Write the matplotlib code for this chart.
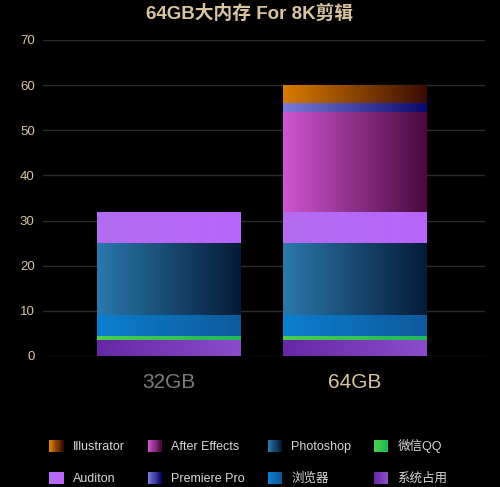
import numpy as np
import matplotlib
matplotlib.use("Agg")
import matplotlib.pyplot as plt
from matplotlib.colors import to_rgb
from matplotlib.patches import Rectangle
from matplotlib.legend_handler import HandlerBase

plt.rcParams["font.family"] = ["Liberation Sans", "Noto Sans CJK SC", "DejaVu Sans"]

# data (GB), stacked bottom -> top
groups = ["32GB", "64GB"]
apps = ["系统占用", "微信QQ", "浏览器", "Photoshop", "Auditon",
        "After Effects", "Premiere Pro", "Illustrator"]
mem_32 = [3.5, 1, 4.5, 16, 7, 0, 0, 0]
mem_64 = [3.5, 1, 4.5, 16, 7, 22, 2, 4]

# (left colour, right colour) of the horizontal gradient
grad = {
    "系统占用": ("#6628a4", "#8a4cc8"),
    "微信QQ": ("#4ccf4c", "#20b85a"),
    "浏览器": ("#0b7fd0", "#0f5a9c"),
    "Photoshop": ("#2b78aa", "#061b38"),
    "Auditon": ("#b36cf2", "#b865fa"),
    "After Effects": ("#cf55d0", "#4a0a3e"),
    "Premiere Pro": ("#7a7ad8", "#0a0a6e"),
    "Illustrator": ("#d87c00", "#3a0c02"),
}
legend_order = ["Illustrator", "Auditon", "After Effects", "Premiere Pro",
                "Photoshop", "浏览器", "微信QQ", "系统占用"]

BG = "#000000"
GOLD = "#d9c4a0"


def gradient_img(c1, c2, n=64):
    a, b = np.array(to_rgb(c1)), np.array(to_rgb(c2))
    t = np.linspace(0, 1, n)[:, None]
    return (a + (b - a) * t)[None, :, :]


class GradientHandler(HandlerBase):
    def create_artists(self, legend, orig_handle, xdescent, ydescent,
                       width, height, fontsize, trans):
        c1, c2 = orig_handle
        n = 12
        cols = gradient_img(c1, c2, n)[0]
        arts = []
        for i in range(n):
            r = Rectangle((-xdescent + width * i / n, -ydescent), width / n + 0.3,
                          height, facecolor=cols[i], edgecolor="none",
                          transform=trans)
            arts.append(r)
        return arts


fig = plt.figure(figsize=(5, 4.87), dpi=100, facecolor=BG)
ax = fig.add_axes([0.086, 0.269, 0.884, 0.649])
ax.set_facecolor(BG)

x = np.arange(len(groups))
width = 0.774
bottoms = np.zeros(len(groups))
for i, app in enumerate(apps):
    vals = np.array([mem_32[i], mem_64[i]])
    bars = ax.bar(x, vals, width, bottom=bottoms, facecolor="none",
                  edgecolor="none", zorder=2)
    for rect, v in zip(bars, vals):
        if v <= 0:
            continue
        x0, y0 = rect.get_x(), rect.get_y()
        im = ax.imshow(gradient_img(*grad[app]), aspect="auto",
                       extent=[x0, x0 + rect.get_width(), y0, y0 + rect.get_height()],
                       interpolation="bilinear", zorder=2)
        im.set_clip_path(rect)
    bottoms += vals

ax.set_xlim(-0.68, 1.70)
ax.set_ylim(0, 70)
ax.set_yticks(range(0, 71, 10))
ax.grid(axis="y", color="#2c2c2c", linewidth=1, zorder=0)
ax.set_axisbelow(True)
for s in ax.spines.values():
    s.set_visible(False)
ax.tick_params(axis="y", length=0, colors=GOLD, labelsize=9.5, pad=6)
ax.tick_params(axis="x", length=0, labelsize=15, pad=12)
ax.set_xticks(x, groups)
for lbl, c in zip(ax.get_xticklabels(), ["#7c7c7c", GOLD]):
    lbl.set_color(c)

fig.text(0.5, 1 - 14 / 487, "64GB大内存 For 8K剪辑", ha="center", va="center",
         fontsize=13.5, color=GOLD, fontweight="bold")

handles = [grad[a] for a in legend_order]
leg = fig.legend(handles, legend_order, handler_map={tuple: GradientHandler()},
                 loc="center", bbox_to_anchor=(0.497, 0.051), ncol=4,
                 frameon=False, fontsize=9, handlelength=1.1, handleheight=1.1,
                 handletextpad=0.8, columnspacing=1.8, labelspacing=1.45)
for t in leg.get_texts():
    t.set_color("#d8d8d8")

fig.savefig("out.png", dpi=100, facecolor=BG)
